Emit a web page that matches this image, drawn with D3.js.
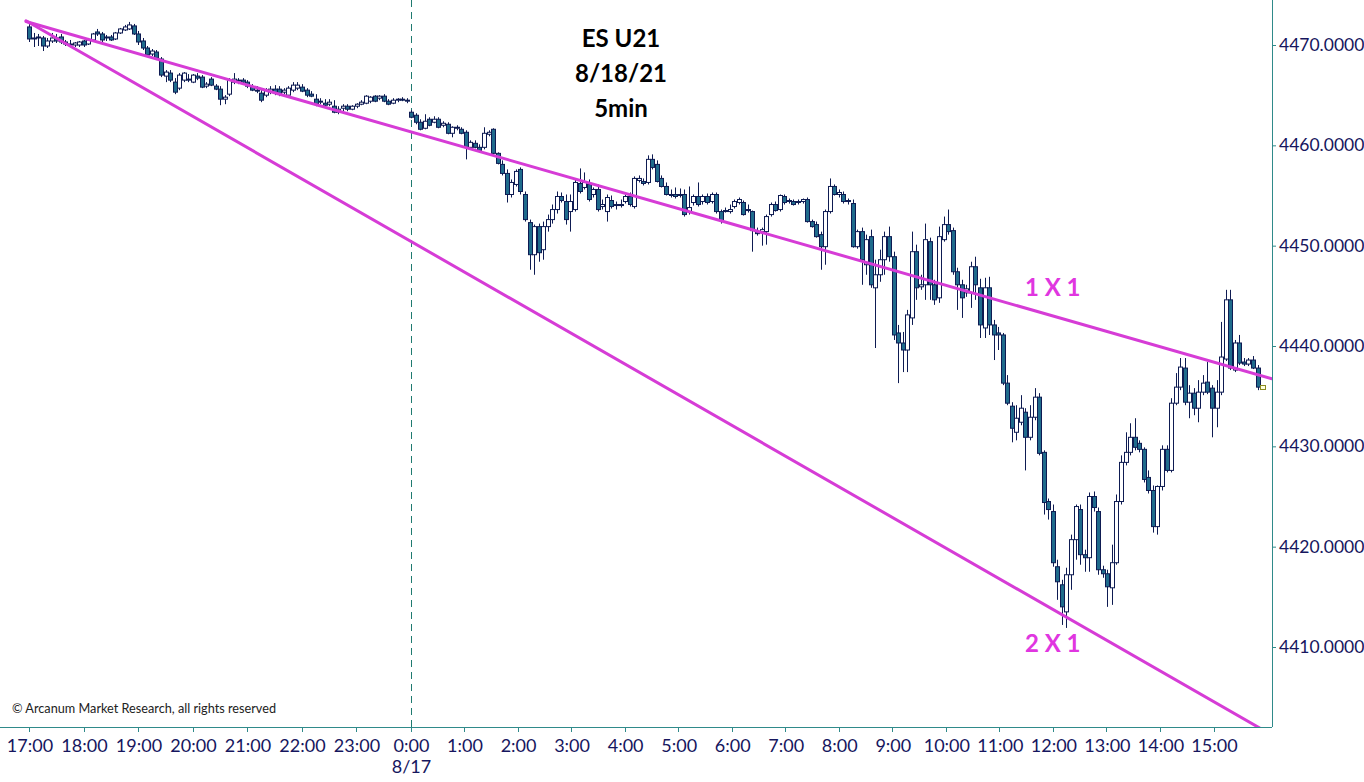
<!DOCTYPE html>
<html><head><meta charset="utf-8">
<script src="https://cdn.jsdelivr.net/npm/d3@7"></script>
<style>html,body{margin:0;padding:0;background:#fff}svg{display:block}</style>
</head><body>
<svg id="chart" width="1364" height="782"></svg>
<script>
// ---- data: ES U21, 5-minute bars (bar index 0 = first bar on the chart) ----
const opens = [4471.8,4470.6,4470.7,4470.7,4469.9,4470.4,4470.7,4470.8,4470.3,4470.1,
4470.0,4470.0,4470.4,4470.1,4470.5,4471.3,4471.1,4470.7,4470.8,4470.6,
4471.2,4471.5,4471.6,4471.9,4471.1,4470.4,4469.7,4469.1,4469.3,4468.6,
4466.9,4467.2,4466.3,4465.7,4466.5,4466.6,4466.3,4466.9,4466.8,4465.9,
4466.6,4465.9,4465.6,4464.6,4465.1,4466.3,4466.4,4466.5,4466.3,4465.8,
4465.5,4465.2,4465.0,4465.3,4465.6,4465.6,4465.3,4465.0,4465.5,4465.7,
4465.8,4465.5,4465.1,4464.6,4464.3,4464.2,4464.1,4463.9,4463.3,4463.7,
4463.9,4463.6,4463.9,4464.1,4464.2,4464.4,4464.9,4464.7,4464.9,4464.4,
4464.2,4464.5,4464.6,4464.4,4463.3,4463.0,4462.3,4461.7,4462.6,4462.3,
4462.6,4462.0,4462.1,4461.2,4461.7,4461.6,4461.3,4459.8,4460.2,4459.8,
4459.8,4461.1,4461.6,4459.2,4458.1,4457.2,4455.1,4456.1,4457.6,4455.1,
4452.3,4449.1,4451.9,4449.6,4451.9,4452.6,4453.6,4454.9,4454.4,4453.4,
4453.6,4456.2,4455.8,4456.1,4455.1,4455.6,4453.9,4453.4,4454.5,4454.0,
4454.1,4454.4,4454.9,4453.9,4456.5,4456.4,4456.3,4458.6,4458.1,4456.7,
4455.9,4455.1,4455.1,4455.0,4455.1,4453.4,4454.3,4454.9,4454.4,4454.9,
4454.4,4455.1,4453.4,4453.5,4453.4,4453.9,4454.3,4454.3,4453.6,4453.4,
4451.4,4451.4,4451.4,4453.1,4454.1,4453.6,4454.9,4454.4,4454.4,4454.3,
4454.4,4454.6,4452.4,4452.1,4451.1,4449.9,4453.4,4455.9,4455.1,4455.1,
4454.5,4454.2,4449.9,4451.4,4448.1,4450.9,4445.8,4447.1,4448.6,4450.9,
4448.9,4441.3,4440.3,4439.6,4442.8,4449.4,4445.9,4446.1,4450.4,4446.1,
4444.8,4450.6,4452.1,4451.5,4447.4,4446.1,4445.3,4445.3,4447.9,4445.8,
4441.8,4445.8,4442.1,4441.3,4441.1,4436.3,4434.0,4431.4,4432.4,4433.4,
4430.9,4432.9,4434.9,4429.4,4424.5,4423.5,4418.0,4416.2,4413.5,4417.2,
4420.7,4423.7,4419.2,4418.9,4425.0,4423.5,4417.7,4417.3,4415.9,4418.4,
4424.5,4428.4,4429.4,4430.9,4430.3,4429.7,4426.9,4425.6,4422.0,4426.0,
4429.7,4427.6,4434.3,4435.9,4437.8,4434.4,4435.3,4433.8,4435.4,4436.4,
4435.8,4433.8,4435.4,4438.7,4444.6,4437.6,4440.3,4438.4,4438.2,4438.6,
4437.8];
const highs = [4472.25,4471.2,4471.1,4470.9,4470.7,4471.2,4471.1,4471.1,4470.5,4470.5,
4470.3,4470.4,4470.5,4470.7,4471.2,4471.6,4471.3,4471.0,4471.0,4471.3,
4471.7,4472.0,4472.3,4472.1,4471.4,4470.7,4469.9,4469.6,4469.5,4468.8,
4467.5,4467.5,4466.7,4467.2,4467.3,4467.1,4467.1,4467.2,4467.0,4466.3,
4466.8,4466.1,4465.9,4465.0,4466.7,4467.2,4466.7,4466.7,4466.5,4466.1,
4465.9,4465.5,4465.7,4465.9,4466.0,4465.9,4465.7,4465.9,4466.3,4466.3,
4466.1,4465.7,4465.4,4465.1,4464.7,4464.6,4464.6,4464.5,4463.9,4464.1,
4464.1,4464.0,4464.2,4464.5,4465.0,4464.9,4465.0,4465.0,4465.1,4464.6,
4464.7,4464.7,4464.8,4464.7,4463.5,4463.2,4462.6,4463.1,4462.8,4462.9,
4462.8,4462.4,4462.3,4461.9,4462.0,4461.8,4461.5,4460.5,4460.5,4460.1,
4461.8,4461.5,4461.7,4459.3,4458.5,4457.6,4456.6,4457.6,4457.8,4455.4,
4452.6,4452.1,4452.2,4452.4,4453.1,4454.1,4455.4,4455.3,4455.1,4455.1,
4456.6,4457.7,4457.3,4456.6,4455.8,4456.1,4454.6,4455.1,4455.0,4454.4,
4454.6,4455.1,4455.3,4456.9,4457.0,4456.7,4459.0,4459.1,4458.5,4457.0,
4456.3,4455.6,4455.8,4455.7,4455.6,4455.9,4455.1,4456.3,4455.1,4455.2,
4455.3,4455.3,4453.6,4453.8,4454.1,4454.6,4454.8,4454.5,4454.1,4453.5,
4451.8,4451.8,4453.1,4454.3,4454.4,4455.1,4455.1,4454.7,4454.6,4454.6,
4454.7,4454.8,4452.6,4452.4,4451.4,4453.6,4456.7,4456.1,4455.6,4455.4,
4454.7,4454.6,4451.6,4451.8,4451.1,4451.6,4448.6,4449.6,4451.4,4451.9,
4449.4,4442.1,4441.4,4443.6,4451.4,4450.1,4447.1,4452.2,4450.8,4446.6,
4451.9,4452.9,4453.6,4451.8,4447.8,4446.6,4446.1,4448.4,4448.9,4446.7,
4446.8,4446.9,4442.6,4441.9,4441.3,4437.1,4434.4,4434.1,4435.1,4433.8,
4434.1,4435.8,4435.3,4429.6,4424.8,4424.2,4418.7,4416.7,4417.9,4421.2,
4424.2,4424.2,4419.7,4425.4,4425.5,4423.9,4418.1,4417.7,4420.2,4425.2,
4429.1,4431.4,4432.3,4432.8,4430.6,4429.9,4427.6,4426.1,4426.1,4430.1,
4430.1,4434.8,4437.3,4438.8,4438.8,4436.1,4435.8,4436.6,4437.1,4438.4,
4436.1,4436.6,4442.4,4445.6,4445.6,4440.6,4441.1,4438.8,4438.8,4439.0,
4438.1];
const lows = [4470.3,4469.8,4469.9,4469.4,4469.7,4470.2,4470.2,4470.1,4469.9,4469.8,
4469.8,4469.8,4469.8,4470.0,4470.3,4470.9,4470.3,4470.4,4470.4,4470.5,
4471.1,4471.4,4471.5,4471.0,4470.0,4469.5,4468.9,4468.9,4468.5,4466.8,
4466.3,4466.3,4465.1,4465.5,4466.3,4466.3,4466.2,4466.5,4465.7,4465.7,
4465.9,4465.5,4464.0,4464.1,4464.9,4466.1,4466.1,4466.1,4465.7,4465.4,
4465.2,4464.3,4464.8,4465.1,4465.0,4464.9,4465.1,4464.8,4465.3,4465.5,
4465.3,4464.8,4464.8,4463.9,4464.1,4463.9,4463.9,4463.2,4463.1,4463.4,
4463.4,4463.5,4463.7,4464.0,4464.1,4464.2,4464.3,4464.5,4464.3,4464.0,
4464.1,4464.3,4464.4,4464.2,4462.7,4462.1,4461.5,4461.6,4461.9,4462.2,
4461.7,4461.8,4461.1,4460.8,4461.5,4461.1,4458.6,4459.6,4459.7,4459.3,
4459.6,4460.9,4459.1,4458.1,4457.0,4454.3,4454.8,4455.9,4455.1,4452.4,
4447.6,4447.1,4448.4,4448.6,4451.4,4452.2,4453.2,4454.3,4452.1,4451.4,
4453.4,4455.2,4455.6,4454.4,4454.8,4453.4,4453.6,4452.4,4453.7,4453.6,
4453.8,4454.2,4453.9,4453.7,4456.3,4456.0,4456.1,4457.6,4456.3,4455.8,
4455.0,4454.8,4454.7,4454.8,4452.9,4453.1,4454.0,4453.9,4454.1,4454.1,
4454.2,4453.2,4452.2,4453.3,4453.2,4453.7,4454.1,4453.0,4453.3,4449.4,
4451.0,4450.0,4450.1,4452.9,4453.4,4453.4,4454.1,4454.2,4454.0,4454.1,
4454.2,4452.3,4451.8,4450.8,4447.6,4448.1,4453.2,4455.0,4454.8,4454.2,
4454.1,4449.8,4449.7,4446.1,4447.1,4445.8,4439.8,4446.4,4447.1,4448.4,
4440.6,4436.3,4437.4,4437.4,4442.1,4444.6,4445.6,4444.6,4444.6,4444.1,
4444.3,4450.4,4451.1,4447.1,4443.6,4442.8,4444.9,4443.8,4444.6,4440.8,
4440.8,4441.1,4438.6,4439.6,4436.1,4434.1,4430.4,4430.6,4432.1,4427.6,
4430.6,4432.6,4429.1,4423.2,4422.7,4418.0,4414.7,4412.2,4411.9,4415.7,
4418.7,4418.2,4417.5,4417.5,4423.5,4417.2,4416.9,4414.0,4414.2,4418.2,
4424.2,4428.1,4429.1,4429.6,4429.4,4426.4,4425.3,4421.4,4421.2,4425.6,
4427.4,4427.4,4434.1,4435.6,4434.1,4432.8,4433.1,4432.4,4435.1,4435.2,
4430.9,4431.9,4435.1,4438.5,4437.6,4437.4,4438.1,4438.0,4438.0,4437.7,
4435.6];
const closes = [4470.6,4470.7,4470.8,4469.9,4470.4,4470.7,4470.4,4470.3,4470.1,4470.0,
4470.2,4470.3,4470.0,4470.5,4471.1,4471.1,4470.5,4470.8,4470.5,4471.2,
4471.6,4471.8,4472.0,4471.1,4470.3,4469.7,4469.0,4469.4,4468.7,4467.0,
4467.3,4466.5,4465.3,4467.0,4467.2,4466.5,4467.0,4466.7,4465.8,4466.1,
4466.0,4465.6,4464.6,4464.8,4466.5,4466.6,4466.5,4466.3,4465.9,4465.5,
4465.4,4464.5,4465.5,4465.6,4465.2,4465.1,4465.5,4465.7,4466.0,4466.0,
4465.4,4465.0,4464.9,4464.1,4464.4,4464.0,4464.3,4463.3,4463.6,4463.9,
4463.6,4463.9,4464.1,4464.3,4464.9,4464.8,4464.4,4464.9,4464.4,4464.1,
4464.5,4464.6,4464.5,4464.5,4462.8,4462.3,4461.6,4462.4,4462.0,4462.6,
4461.8,4462.2,4461.2,4461.8,4461.8,4461.2,4459.8,4460.3,4459.8,4459.5,
4461.2,4461.3,4459.2,4458.2,4457.2,4455.1,4456.3,4457.4,4455.4,4452.6,
4449.1,4451.9,4449.3,4451.9,4452.6,4453.6,4454.9,4454.5,4452.6,4454.4,
4456.3,4455.4,4456.3,4454.6,4455.6,4453.6,4454.1,4454.8,4453.9,4454.1,
4454.0,4454.9,4454.1,4456.7,4456.7,4456.2,4458.6,4457.8,4456.4,4455.9,
4455.1,4455.0,4454.9,4455.1,4453.1,4453.8,4454.9,4454.1,4454.9,4454.3,
4455.1,4453.4,4452.5,4453.4,4453.6,4454.4,4454.6,4453.1,4453.5,4451.5,
4451.2,4451.6,4452.9,4454.1,4453.5,4455.0,4454.3,4454.5,4454.1,4454.4,
4454.6,4452.4,4451.9,4450.9,4449.9,4453.4,4455.9,4455.1,4455.3,4454.4,
4454.4,4449.9,4451.4,4448.6,4450.6,4446.1,4447.1,4448.6,4450.9,4448.9,
4441.1,4440.3,4439.6,4443.1,4449.4,4445.8,4446.1,4450.6,4446.1,4444.6,
4450.9,4452.1,4451.4,4447.4,4446.1,4444.8,4445.7,4447.9,4446.1,4442.1,
4445.8,4442.1,4441.1,4441.1,4436.3,4434.3,4431.8,4432.8,4433.8,4430.9,
4432.9,4434.9,4429.3,4424.4,4423.7,4418.4,4416.5,4414.0,4417.2,4420.7,
4424.0,4419.2,4418.9,4425.0,4423.9,4417.7,4417.3,4416.0,4418.4,4424.5,
4428.4,4429.4,4430.9,4429.9,4429.7,4426.7,4425.6,4422.0,4426.0,4429.7,
4427.6,4434.3,4435.9,4437.9,4434.4,4435.3,4433.8,4435.4,4436.3,4435.4,
4433.8,4435.4,4438.9,4444.6,4437.8,4440.3,4438.3,4438.2,4438.6,4437.8,
4435.9];

// time axis labels
const hourLabels = ["17:00","18:00","19:00","20:00","21:00","22:00","23:00","0:00","1:00","2:00","3:00","4:00","5:00","6:00","7:00","8:00","9:00","10:00","11:00","12:00","13:00","14:00","15:00"];
const firstHour = new Date(2021, 7, 16, 17, 0);
const dayBreak = new Date(2021, 7, 17, 0, 0);
const lastHour = new Date(2021, 7, 17, 15, 0);
const dayBreakLabel = "8/17";
const priceTicks = [4410,4420,4430,4440,4450,4460,4470];
const titleLines = ["ES U21","8/18/21","5min"];
// Gann fan from the session high, slopes in points per 5-min bar
const gannStartBar = 0;
const gannStartPrice = 4472.25;
const gannSlopes = [0.13, 0.26];
const gannNames = ["1 X 1","2 X 1"];
const gannLabelPrices = [4445.0, 4409.5];
const gannLabelBar = 225;
const copyright = "\u00A9 Arcanum Market Research, all rights reserved";

// ---- layout ----
const plotRight = 1272, plotBottom = 727;
const svg = d3.select("#chart");

const x = d3.scaleLinear().domain([0, opens.length - 1]).range([29, 29 + 270 * 4.55]);
const xt = d3.scaleTime().domain([firstHour, dayBreak, lastHour]).range([30, 411.5, 1214.5]);
const y = d3.scaleLinear().domain([4410, 4470]).range([647, 45]);

const bars = d3.range(opens.length).map(i => ({i, o: opens[i], h: highs[i], l: lows[i], c: closes[i]}));

const axisColor = "#2f8a8a";
const navy = "#0e1b52";
const magenta = "#d63cd6";
const labelColor = "#16165e";

svg.append("defs").append("clipPath").attr("id","plot")
  .append("rect").attr("x",0).attr("y",0).attr("width",plotRight).attr("height",plotBottom);

// day break dashed line
const xb = Math.round(xt(dayBreak)) - 0.5;
svg.append("line").attr("x1", xb).attr("x2", xb).attr("y1", 0).attr("y2", plotBottom)
  .attr("stroke", "#1f7a70").attr("stroke-width", 1).attr("stroke-dasharray", "7,5");

// candles
const g = svg.append("g").attr("clip-path","url(#plot)");
const cg = g.selectAll("g.bar").data(bars).join("g").attr("class","bar");
cg.append("line")
  .attr("x1", d => Math.round(x(d.i)) + 0.5).attr("x2", d => Math.round(x(d.i)) + 0.5)
  .attr("y1", d => y(d.h)).attr("y2", d => y(d.l))
  .attr("stroke", navy).attr("stroke-width", 1);
cg.append("rect")
  .attr("x", d => Math.round(x(d.i)) - 1.5)
  .attr("width", 4)
  .attr("y", d => y(Math.max(d.o, d.c)))
  .attr("height", d => Math.max(0.6, Math.abs(y(d.o) - y(d.c))))
  .attr("fill", d => d.c < d.o ? "#1f6b8c" : "#ffffff")
  .attr("stroke", navy).attr("stroke-width", 1);

// gann lines
const endBar = x.invert(plotRight);
gannSlopes.forEach((s, k) => {
  g.append("line")
    .attr("x1", x(gannStartBar) - 3).attr("y1", y(gannStartPrice + s * 3 / 4.55))
    .attr("x2", x(endBar)).attr("y2", y(gannStartPrice - s * (endBar - gannStartBar)))
    .attr("stroke", magenta).attr("stroke-width", 3).attr("stroke-linecap","round");
  svg.append("text")
    .attr("x", x(gannLabelBar)).attr("y", y(gannLabelPrices[k]))
    .attr("text-anchor","middle")
    .attr("font-family","Lato, 'Open Sans', sans-serif").attr("font-weight","bold").attr("font-size",24)
    .attr("fill","#e036e0").text(gannNames[k]);
});

// last price marker
const last = bars[bars.length - 1];
svg.append("rect").attr("x", Math.round(x(last.i)) + 2.5).attr("y", Math.round(y(last.c)) - 1.5)
  .attr("width", 5).attr("height", 4).attr("fill","#ffffe0").attr("stroke","#8a8a20").attr("stroke-width",1);

// bottom axis
svg.append("line").attr("x1",0).attr("x2",plotRight).attr("y1",plotBottom+0.5).attr("y2",plotBottom+0.5)
  .attr("stroke",axisColor).attr("stroke-width",1);
const hours = hourLabels.map((lab, k) => ({lab, t: new Date(2021, 7, 16, 17 + k, 0)}));
const tg = svg.append("g");
tg.selectAll("line").data(hours).join("line")
  .attr("x1", d => Math.round(xt(d.t)) - 0.5).attr("x2", d => Math.round(xt(d.t)) - 0.5)
  .attr("y1", plotBottom).attr("y2", plotBottom + 5)
  .attr("stroke", axisColor);
tg.selectAll("text").data(hours).join("text")
  .attr("x", d => xt(d.t)).attr("y", 752)
  .attr("text-anchor","middle")
  .attr("font-family","Lato, sans-serif").attr("font-size",18).attr("fill",labelColor)
  .text(d => d.lab);
svg.append("text").attr("x", xt(dayBreak)).attr("y", 773).attr("text-anchor","middle")
  .attr("font-family","Lato, sans-serif").attr("font-size",18).attr("fill",labelColor).text(dayBreakLabel);

// right axis
svg.append("line").attr("x1",plotRight+0.5).attr("x2",plotRight+0.5).attr("y1",0).attr("y2",plotBottom)
  .attr("stroke",axisColor).attr("stroke-width",1);
const ya = d3.axisRight(y).tickValues(priceTicks).tickFormat(d3.format(".4f")).tickSize(4).tickPadding(3);
const yg = svg.append("g").attr("transform",`translate(${plotRight},0)`).call(ya);
yg.select(".domain").remove();
yg.selectAll(".tick line").attr("stroke",axisColor);
yg.selectAll(".tick text").attr("font-family","Lato, sans-serif").attr("font-size",17.5).attr("fill",labelColor);

// title
const tt = svg.append("text").attr("text-anchor","middle")
  .attr("font-family","Lato, 'Open Sans', sans-serif").attr("font-weight","bold").attr("font-size",24).attr("fill","#000");
titleLines.forEach((t, k) => tt.append("tspan").attr("x", 621).attr("y", 47 + k * 35).text(t));

// copyright
svg.append("text").attr("x",12).attr("y",713)
  .attr("font-family","Lato, sans-serif").attr("font-size",12.7).attr("fill","#222").text(copyright);
</script>
</body></html>
